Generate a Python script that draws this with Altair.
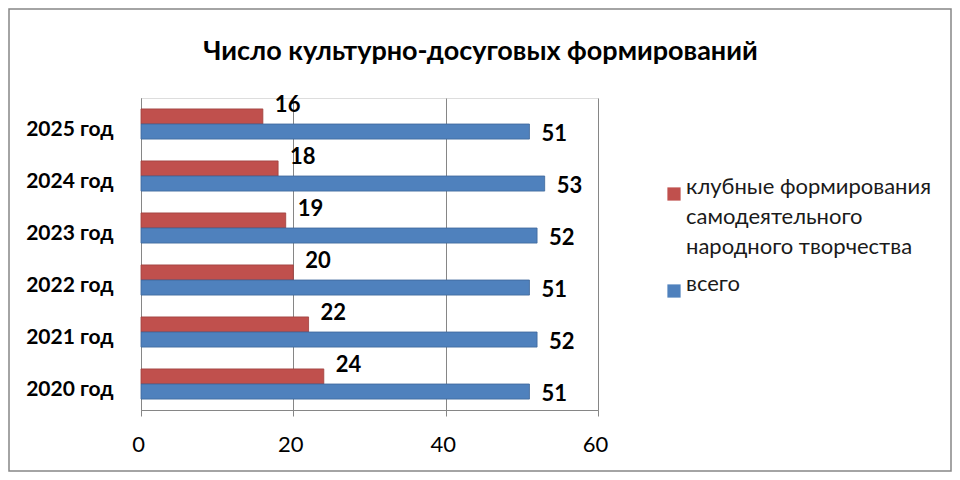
import altair as alt
import pandas as pd

years = ["2025 год", "2024 год", "2023 год", "2022 год", "2021 год", "2020 год"]
club = [16, 18, 19, 20, 22, 24]
total = [51, 53, 52, 51, 52, 51]
series_names = ["клубные формирования самодеятельного народного творчества", "всего"]
colors = ["#C0504D", "#4F81BD"]
x_ticks = [0, 20, 40, 60]

rows = []
for y, c, t in zip(years, club, total):
    rows.append({"year": y, "series": series_names[0], "value": c})
    rows.append({"year": y, "series": series_names[1], "value": t})
df = pd.DataFrame(rows)

FONT = "Lato, 'Noto Sans', sans-serif"
W, H = 457, 312
PL, PT, PR, PB = 133, 90, 354, 62

y_enc = alt.Y("year:N", sort=years, title=None,
              scale=alt.Scale(paddingInner=0.42, paddingOuter=0.21),
              axis=alt.Axis(labelFont=FONT, labelFontSize=21, labelFontWeight="bold",
                            labelColor="#000000", labelPadding=28, labelOffset=6,
                            ticks=False, domain=True, domainColor="#868686"))
yoff = alt.YOffset("series:N", sort=series_names,
                   scale=alt.Scale(domain=series_names, paddingInner=0, paddingOuter=0))
x_enc = alt.X("value:Q", title=None, scale=alt.Scale(domain=[0, 60]),
              axis=alt.Axis(values=x_ticks, grid=True, gridColor="#868686",
                            domainColor="#868686", tickColor="#868686", tickSize=6,
                            labelFont=FONT, labelFontSize=22, labelColor="#000000",
                            labelPadding=18, labelFlush=False, labelOffset=-3))

base = alt.Chart(df)

bars = base.mark_bar(strokeWidth=0.8).encode(
    y=y_enc, yOffset=yoff, x=x_enc,
    color=alt.Color("series:N", sort=series_names,
                    scale=alt.Scale(domain=series_names, range=colors),
                    legend=alt.Legend(title=None, orient="none", legendX=522, legendY=85,
                                      symbolType="square", symbolSize=175,
                                      symbolStrokeWidth=0, labelFont=FONT,
                                      labelFontSize=22, labelColor="#1a1a1a",
                                      labelLimit=400, labelOffset=1, rowPadding=15,
                                      labelBaseline="alphabetic",
                                      labelExpr="datum.label == 'всего' ? 'всего' : ['клубные формирования', 'самодеятельного', 'народного творчества']")),
    stroke=alt.Color("series:N", sort=series_names,
                     scale=alt.Scale(domain=series_names, range=["#9E3F3C", "#3C6699"]),
                     legend=None),
)

lbl_red = base.transform_filter(alt.datum.series == series_names[0]).mark_text(
    align="left", baseline="middle", dx=12, dy=-11, font=FONT, fontSize=22,
    fontWeight="bold", color="#000000"
).encode(y=y_enc, yOffset=yoff, x=x_enc, text="value:Q")

lbl_blue = base.transform_filter(alt.datum.series == series_names[1]).mark_text(
    align="left", baseline="middle", dx=12, dy=2, font=FONT, fontSize=22,
    fontWeight="bold", color="#000000"
).encode(y=y_enc, yOffset=yoff, x=x_enc, text="value:Q")

frame = alt.Chart(pd.DataFrame({"a": [0]})).mark_rect(
    fill=None, stroke="#868686", strokeWidth=1.5
).encode(x=alt.value(-PL + 1), x2=alt.value(W + PR - 1),
         y=alt.value(-PT + 1), y2=alt.value(H + PB - 1))

chart = alt.layer(frame, bars, lbl_red, lbl_blue).properties(
    width=W, height=H,
    autosize=alt.AutoSizeParams(type="none"),
    padding={"left": PL, "top": PT, "right": PR, "bottom": PB},
    title=alt.Title("Число культурно-досуговых формирований", font=FONT, fontSize=27,
                    fontWeight="bold", color="#000000", anchor="middle", frame="group",
                    dx=111, offset=-58),
).configure_view(stroke=None).configure(
    style={"guide-label": {"lineHeight": 30}}
)

chart.save("out.html", embed_options={"renderer": "svg", "actions": False})
